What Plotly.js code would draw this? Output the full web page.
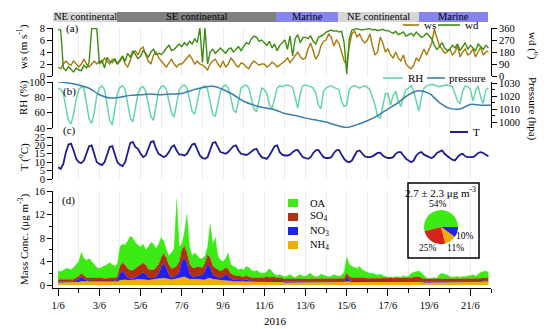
<!DOCTYPE html>
<html><head><meta charset="utf-8">
<script src="https://cdn.plot.ly/plotly-3.0.1.min.js"></script>
<style>html,body{margin:0;padding:0;background:#fff}#chart{width:550px;height:329px}</style>
</head><body><div id="chart"></div>
<script>
// ---------------- DATA (3-hourly from 2016-06-01 00:00 unless noted) ----------------
const startDate = '2016-06-01';
const stepHours = 3;

const ws = [
1.5,1.2,2,2.5,2,1.8,2.5,2,
1.5,2,2.8,2,1.5,2,2.5,2,
2.5,2.2,3,2.5,2,2.8,2.5,2,
2.5,3.2,2,1.5,2.5,3.8,4.2,3.5,
4.5,4.8,3.5,2.5,2,3.5,4,3,
2.5,2,1.5,2.2,2.8,2,1.5,2,
2,2.5,3,3.5,2.8,2,2.5,2,
1.8,1.5,1,2,2.5,2.8,2,1.5,
2.5,1.5,2,3,2.5,1.8,1.5,2.2,
2,1.5,1.2,2,2.5,2.2,1.8,2,
2,1.5,1.8,2.3,2,1.5,1.8,2.2,
2.5,3,2.2,2.8,3.5,4,3.2,2.8,
3,4.5,5.5,4,2.8,3.5,5,5.8,
6,7,6.5,5,6,5.5,4,2.5,
1.8,5,7,7.5,6.5,7,6,5.5,
6,7,5,3.5,4,6.5,5.5,4,
4.5,3.5,3,4,3,2.5,3.5,2,
1.5,1.2,1.8,3,2.5,3.5,4.5,3.5,
4.5,5.5,7.8,6.5,5,4.5,3.8,4,
4.5,3.5,4,5,3.2,4,4.5,3.5,
3.8,4.5,3.2,4,4.8,3.5,4,4.2];

const wd = [
350,345,60,40,70,50,30,60,
45,40,80,60,100,355,355,355,
90,120,60,140,110,100,130,90,
120,150,110,170,140,190,160,130,
150,190,170,140,180,200,160,170,
160,180,210,230,190,200,220,240,
220,250,230,260,240,280,250,360,
100,360,90,180,200,170,190,210,
190,170,200,210,180,200,220,190,
220,250,240,280,300,290,260,270,
250,230,260,210,240,190,230,250,
270,200,300,150,280,310,250,290,
290,280,300,260,240,290,300,310,
330,340,345,335,340,330,335,250,
15,280,345,350,355,350,345,350,
350,355,345,350,340,345,350,340,
340,330,320,335,310,320,330,300,
310,320,300,330,310,290,300,320,
300,280,230,200,220,250,210,190,
200,230,210,240,190,220,250,200,
230,210,190,240,220,200,230,210];

const rh = [
92,90,85,65,50,45,58,78,
90,94,92,72,52,46,60,82,
92,95,90,70,50,44,62,85,
93,95,90,72,53,48,65,85,
92,94,88,70,55,50,68,88,
94,95,90,75,60,54,70,90,
95,96,92,78,62,58,72,90,
93,95,90,75,58,55,72,88,
94,96,92,80,64,60,75,92,
95,96,92,80,65,61,78,92,
90,85,70,65,78,92,95,94,
95,96,95,93,80,66,85,95,
96,95,94,92,85,70,65,88,
92,94,95,93,92,90,75,68,
70,90,94,95,94,92,94,95,
93,90,80,70,55,53,68,85,
85,70,82,88,75,68,80,90,
92,95,88,75,62,80,92,95,
96,97,96,95,94,95,96,96,
95,94,85,75,72,88,95,94,
90,75,88,95,80,72,90,92];

// pressure: 12-hourly from 2016-06-01 00:00
const pressureStepHours = 12;
const pressure = [
1031,1030,1028.5,1026,1021,1018.5,1019,1020.5,1021,1021.5,
1021,1021.5,1022,1024.5,1026.5,1027.5,1025,1021,1016,1013,
1011,1009.5,1006.5,1005,1003,1001.5,1000,997.5,995.8,998,
1001,1005,1010,1015,1021,1024,1022,1015,1010.5,1010,
1013.5,1013,1013];

const temp = [
7,6,9,16,20.5,21,17,12,
10,9.5,11,16,19.5,20,15,10,
9,8.3,10,15,19,19.5,15,10,
8.5,7.7,10,16,21.5,22,19,18,
15,13,14,18,22,22.5,18,15,
14,13,14,16,19,20,17,14.5,
14.5,14,15,18,20.5,21,17,14,
12.5,12,13,18,21.5,22,19,16,
15.5,15,16,18,19.5,20,17,15,
14.5,14.3,15,16.5,17.5,18,15,13,
12.5,12,14,17,19.5,20,16,14.5,
14,14,14.5,16,17,17.3,15,13,
12.5,12,13,15.5,17,17.3,15,13,
12.5,12.5,13,15.5,17,17.3,14.5,12,
10.5,10,11,14,16.5,17,15,13.5,
13,13,13.5,14.5,15.5,15.7,14,13,
12.5,12.5,13,15,16,16,14,12,
11,10,11,14,15.5,16,14.5,13.5,
13,12.5,13.5,15.5,16.5,17,15,13.5,
12.5,11.5,11,13,14.5,15,13.5,13,
13,13,14,15.5,16,15.5,14.5,13.5];

const nh4 = [
.4,.4,.4,.4,.4,.4,.4,.5,
.5,.6,.6,.5,.5,.5,.5,.5,
.5,.5,.5,.5,.5,.5,.5,.6,
.8,.9,.9,.8,.8,.8,.9,1.0,
1.0,.9,.9,.8,.9,.9,1.0,1.1,
1.1,1.2,1.1,1.0,.9,1.0,1.1,1.2,
1.3,1.4,1.2,1.0,1.0,1.0,1.1,1.0,
.9,.9,1.1,1.2,1.0,1.0,.9,.8,
.8,.8,.8,.7,.6,.6,.6,.6,
.5,.5,.5,.5,.5,.5,.5,.5,
.5,.5,.5,.6,.5,.5,.5,.5,
.4,.4,.4,.4,.4,.4,.4,.4,
.4,.4,.4,.4,.4,.4,.4,.4,
.4,.4,.4,.4,.4,.4,.4,.5,
.6,.5,.5,.5,.5,.5,.5,.5,
.5,.5,.5,.5,.5,.5,.5,.5,
.5,.5,.5,.5,.5,.5,.5,.5,
.5,.5,.5,.6,.6,.5,.4,.4,
.4,.4,.4,.4,.5,.5,.5,.5,
.4,.4,.4,.4,.4,.4,.4,.5,
.5,.5,.5,.5,.5,.6,.6,.6];

const no3 = [
.2,.2,.2,.2,.2,.2,.2,.3,
.5,.8,.5,.3,.2,.2,.2,.3,
.3,.3,.2,.2,.2,.2,.2,.3,
1.2,1.5,1.0,.5,.3,.3,.4,.6,
.9,1.3,1.0,.5,.3,.3,.5,.8,
2.0,2.5,1.8,.8,.4,.4,.6,1.0,
2.8,3.2,2.5,1.0,.5,.4,.5,.6,
.8,1.5,2.5,1.8,.8,.5,.4,.4,
.6,1.0,.8,.4,.3,.3,.3,.3,
.3,.5,.3,.2,.2,.2,.2,.2,
.2,.3,.2,.2,.2,.2,.2,.2,
.15,.15,.15,.15,.15,.15,.15,.15,
.15,.15,.15,.15,.15,.15,.15,.15,
.15,.15,.15,.15,.15,.15,.15,.15,
.8,.3,.2,.2,.2,.2,.2,.2,
.15,.15,.15,.15,.15,.15,.15,.15,
.15,.15,.15,.15,.15,.15,.15,.15,
.15,.15,.15,.15,.15,.15,.15,.15,
.15,.15,.15,.15,.15,.15,.15,.15,
.15,.15,.15,.15,.15,.15,.15,.15,
.15,.15,.15,.15,.15,.15,.15,.15];

const so4 = [
.4,.4,.4,.4,.4,.4,.4,.5,
.5,.6,.6,.5,.5,.5,.5,.5,
.4,.4,.4,.5,.5,.5,.5,.6,
1.3,1.4,1.5,1.5,1.4,1.4,1.5,1.6,
1.6,1.6,1.5,1.4,1.4,1.4,1.5,1.6,
1.6,1.7,1.7,1.6,1.5,1.5,1.6,1.8,
1.9,2.0,1.8,1.6,1.5,1.5,1.5,1.5,
1.3,1.4,1.6,1.7,1.5,1.4,1.3,1.2,
1.2,1.2,1.1,.9,.8,.7,.7,.6,
.6,.6,.6,.6,.6,.6,.6,.6,
.6,.7,.6,.6,.6,.5,.5,.5,
.5,.5,.5,.5,.5,.5,.5,.5,
.5,.5,.5,.5,.5,.5,.5,.5,
.5,.5,.5,.5,.5,.5,.5,.5,
.7,.6,.6,.6,.6,.6,.6,.6,
.5,.5,.5,.5,.5,.5,.5,.5,
.5,.5,.5,.5,.5,.5,.5,.5,
.5,.6,.7,.7,.7,.6,.5,.5,
.5,.5,.5,.5,.5,.5,.5,.5,
.5,.5,.5,.5,.5,.5,.5,.5,
.5,.5,.5,.5,.5,.5,.5,.5];

const oa = [
1.4,1.3,1.5,1.8,1.8,1.6,2.0,2.2,
2.5,3.6,2.8,2.9,3.3,2.8,2.3,1.7,
1.6,1.8,2.1,2.3,2.6,2.3,2.0,2.1,
3.2,3.2,3.4,4.7,5.8,5.5,4.4,3.6,
3.0,3.2,2.6,3.8,4.7,4.4,3.2,3.5,
3.4,2.1,1.4,1.6,2.7,3.3,11.3,2.5,
1.0,2.4,6.6,2.9,2.0,2.6,1.9,1.4,
1.5,1.2,1.3,5.7,3.7,5.2,2.4,1.8,
1.4,1.5,2.8,1.5,1.5,1.4,1.0,1.3,
1.1,1.6,1.6,1.2,1.0,1.2,.9,.7,
.7,.8,1.5,.8,.5,.4,.6,.4,
.35,.55,.75,.45,.25,.55,.75,.45,
.45,.75,.95,.55,.35,.45,.85,.65,
.55,.35,.45,.75,.55,.45,.65,1.05,
2.7,2.1,1.9,1.7,1.5,1.9,1.3,1.1,
1.05,.85,.85,.65,.55,.75,.45,.35,
.15,.25,.05,.35,.25,.15,.45,.25,
.35,.75,.85,.85,.95,.85,.55,.15,
.05,.15,.25,.15,.65,.85,.75,.55,
.45,.25,.35,.45,.25,.45,.35,.45,
.45,.65,.35,.75,1.05,1.05,1.15,.95];

// air-mass periods
const airLabels = ['NE continental','SE continental','Marine','NE continental','Marine'];
const airStart  = ['2016-05-31 17:00','2016-06-03 21:00','2016-06-11 14:00','2016-06-14 14:00','2016-06-18 12:00'];
const airEnd    = ['2016-06-03 21:00','2016-06-11 14:00','2016-06-14 14:00','2016-06-18 12:00','2016-06-21 21:00'];

// pie (mean composition)
const pieLabels = ['OA','NO3','NH4','SO4'];
const pieValues = [54,10,11,25];
const pieText = ['54%','10%','11%','25%'];
const meanText = '2.7 ± 2.3 μg m<sup>-3</sup>';

// ---------------- helpers ----------------
function toStr(ms){ return new Date(ms).toISOString().slice(0,16).replace('T',' '); }
const t0 = Date.parse(startDate + 'T00:00:00Z');
const t3 = ws.map((_,i)=>toStr(t0 + i*stepHours*3600e3));
const tP = pressure.map((_,i)=>toStr(t0 + i*pressureStepHours*3600e3));
const parseD = s => Date.parse(s.replace(' ','T')+':00Z');

const W=550,H=329;
const px=v=>v/W, py=v=>1-v/H;
const FONT='"Liberation Serif", "Times New Roman", serif';
const DAY=86400000;

const C = {ws:'#a8780c', wd:'#3c8c12', rh:'#62d6a4', p:'#3a7fad', t:'#1c1c96',
  oa:'#3cea14', so4:'#b3300f', no3:'#2020f5', nh4:'#f2ae00',
  ne:'#d6d6d6', se:'#808080', mar:'#8585ec'};
const airColors = airLabels.map(l => l==='Marine'?C.mar:(l.startsWith('SE')?C.se:C.ne));

const tickF = {family:FONT,size:10.5,color:'#000'};
function yax(o){ return Object.assign({showline:true,linecolor:'#000',linewidth:1,ticks:'outside',ticklen:5,
  tickcolor:'#000',showgrid:false,zeroline:false,tickfont:tickF,fixedrange:true,anchor:'x'},o); }

const traces = [
 {x:t3,y:ws,type:'scatter',mode:'lines',line:{color:C.ws,width:1.4},xaxis:'x',yaxis:'y'},
 {x:t3,y:wd,type:'scatter',mode:'lines',line:{color:C.wd,width:1.4},xaxis:'x',yaxis:'y2'},
 {x:t3,y:rh,type:'scatter',mode:'lines',line:{color:C.rh,width:1.5},xaxis:'x',yaxis:'y3'},
 {x:tP,y:pressure,type:'scatter',mode:'lines',line:{color:C.p,width:1.5,shape:'spline'},xaxis:'x',yaxis:'y4'},
 {x:t3,y:temp,type:'scatter',mode:'lines',line:{color:C.t,width:1.8},xaxis:'x',yaxis:'y5'},
 {x:t3,y:nh4,type:'scatter',mode:'lines',stackgroup:'a',line:{color:C.nh4,width:0.3},fillcolor:C.nh4,xaxis:'x',yaxis:'y6'},
 {x:t3,y:no3,type:'scatter',mode:'lines',stackgroup:'a',line:{color:C.no3,width:0.3},fillcolor:C.no3,xaxis:'x',yaxis:'y6'},
 {x:t3,y:so4,type:'scatter',mode:'lines',stackgroup:'a',line:{color:C.so4,width:0.3},fillcolor:C.so4,xaxis:'x',yaxis:'y6'},
 {x:t3,y:oa,type:'scatter',mode:'lines',stackgroup:'a',line:{color:C.oa,width:0.3},fillcolor:C.oa,xaxis:'x',yaxis:'y6'},
 {type:'bar',orientation:'h',y:airLabels.map(()=>0),base:airStart,
  x:airStart.map((s,i)=>parseD(airEnd[i])-parseD(s)),width:1,
  marker:{color:airColors,line:{width:0}},xaxis:'x',yaxis:'y7',textposition:'none'},
 {type:'pie',labels:pieLabels,values:pieValues,sort:false,direction:'clockwise',rotation:-104.4,
  marker:{colors:[C.oa,C.no3,C.nh4,'#d8231a'],line:{width:0}},textinfo:'none',
  domain:{x:[px(424),px(458)],y:[py(244),py(210)]}}
];

const annotations = [];
function ann(text,x,y,o){ annotations.push(Object.assign({text:text,x:px(x),y:py(y),xref:'paper',yref:'paper',
  showarrow:false,font:{family:FONT,size:11,color:'#000'},xanchor:'center',yanchor:'middle'},o||{})); }

// axis titles
ann('ws (m s<sup>-1</sup>)',23,47,{textangle:-90});
ann('RH (%)',23,98,{textangle:-90});
ann('T (<sup>o</sup>C)',23,157,{textangle:-90});
ann('Mass Conc. (μg m<sup>-3</sup>)',23,240,{textangle:-90});
ann('wd (<sup>o</sup>)',533,46,{textangle:90});
ann('Pressure (hpa)',533,109,{textangle:90});
ann('2016',275,321);
// panel labels
ann('(a)',72,29); ann('(b)',70,91); ann('(c)',69,130); ann('(d)',68,201);
// air mass labels
airLabels.forEach((l,i)=>{
  const m = toStr((Math.max(parseD(airStart[i]),parseD('2016-05-31 18:00'))+parseD(airEnd[i]))/2);
  annotations.push({text:l,x:m,y:py(17),xref:'x',yref:'paper',showarrow:false,
    font:{family:FONT,size:10.5,color:'#000'},xanchor:'center',yanchor:'middle'});
});
// legends
ann('ws',422,25,{xanchor:'left'}); ann('wd',463,25,{xanchor:'left'});
ann('RH',406,78,{xanchor:'left'}); ann('pressure',447,78,{xanchor:'left'});
ann('T',471,132,{xanchor:'left'});
ann('OA',308,203,{xanchor:'left',font:{family:FONT,size:10.5,color:'#000'}});
ann('SO<sub>4</sub>',308,217,{xanchor:'left',font:{family:FONT,size:10.5,color:'#000'}});
ann('NO<sub>3</sub>',308,231,{xanchor:'left',font:{family:FONT,size:10.5,color:'#000'}});
ann('NH<sub>4</sub>',308,245,{xanchor:'left',font:{family:FONT,size:10.5,color:'#000'}});
// pie texts
ann(meanText,441,192,{font:{family:FONT,size:11,color:'#000'}});
ann(pieText[0],438,204,{font:{family:FONT,size:9.5,color:'#000'}});
ann(pieText[1],465,236,{font:{family:FONT,size:9.5,color:'#000'}});
ann(pieText[2],455,248,{font:{family:FONT,size:9.5,color:'#000'}});
ann(pieText[3],428,248,{font:{family:FONT,size:9.5,color:'#000'}});

const shapes = [];
function hline(x0,x1,y,c,w){ shapes.push({type:'line',xref:'paper',yref:'paper',x0:px(x0),x1:px(x1),y0:py(y),y1:py(y),line:{color:c,width:w}}); }
function rect(x0,x1,y0,y1,fill,lc,lw){ shapes.push({type:'rect',xref:'paper',yref:'paper',x0:px(x0),x1:px(x1),y0:py(y1),y1:py(y0),fillcolor:fill,line:{color:lc||fill,width:lw||0}}); }
hline(403,419,25,C.ws,1.6); hline(438,460,25,C.wd,1.6);
hline(383,403,78,C.rh,1.6); hline(427,445,78,C.p,1.6);
hline(450,468,132,C.t,2);
rect(288,298,199,207,C.oa); rect(288,298,213,221,C.so4); rect(288,298,227,235,C.no3); rect(288,298,241,249,C.nh4);
rect(408,479,183,258,'rgba(0,0,0,0)','#000',1.5);

const layout = {
  width:W,height:H,margin:{l:0,r:0,t:0,b:0},paper_bgcolor:'#fff',plot_bgcolor:'rgba(0,0,0,0)',
  showlegend:false,hovermode:false,font:{family:FONT,color:'#000'},bargap:0,
  xaxis:{type:'date',domain:[px(53),px(491)],range:['2016-05-31 18:00','2016-06-22 00:00'],anchor:'y6',
    tick0:'2016-06-01',dtick:2*DAY,tickformat:'%-d/%-m',ticks:'outside',ticklen:7,tickcolor:'#000',
    showline:true,linecolor:'#000',linewidth:1,showgrid:true,gridcolor:'#ececec',gridwidth:1,zeroline:false,
    tickfont:tickF,fixedrange:true,
    minor:{dtick:DAY,tick0:'2016-06-01',ticks:'outside',ticklen:4,tickcolor:'#000',showgrid:true,gridcolor:'#ececec'}},
  yaxis:yax({domain:[py(76),py(28)],range:[0,8],tickvals:[0,2,4,6,8]}),
  yaxis2:yax({overlaying:'y',side:'right',range:[0,360],tickvals:[0,90,180,270,360]}),
  yaxis3:yax({domain:[py(128),py(82)],range:[40,100],tickvals:[40,60,80,100]}),
  yaxis4:yax({overlaying:'y3',side:'right',range:[995.4,1030.8],tickvals:[1000,1010,1020,1030],
    minor:{dtick:5,tick0:1000,ticks:'outside',ticklen:3,tickcolor:'#000'}}),
  yaxis5:yax({domain:[py(179),py(137)],range:[0,25],tickvals:[0,5,10,15,20,25]}),
  yaxis6:yax({domain:[py(288),py(191)],range:[-0.5,16],tickvals:[0,4,8,12,16],
    minor:{dtick:2,tick0:0,ticks:'outside',ticklen:3,tickcolor:'#000'}}),
  yaxis7:{domain:[py(22),py(12)],range:[-0.5,0.5],visible:false,fixedrange:true,anchor:'x'},
  annotations:annotations, shapes:shapes
};
Plotly.newPlot('chart',traces,layout,{staticPlot:true,displayModeBar:false});
</script></body></html>
